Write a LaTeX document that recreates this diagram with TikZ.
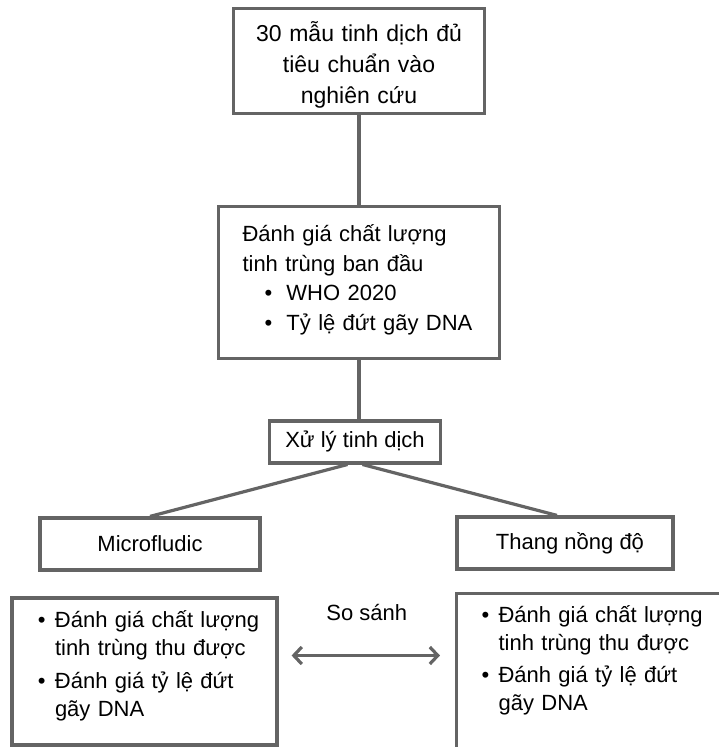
\documentclass[tikz,border=0pt]{standalone}
\usepackage{fontspec}
\setmainfont{Liberation Sans}
\usetikzlibrary{positioning,arrows.meta}
\definecolor{framegray}{RGB}{100,100,100}
% text line with its own left indent
\newcommand{\inline}[2]{\par{\leftskip=#1\relax\noindent#2\par}}
% bullet line: #1 left indent, #2 bullet width, #3 text
\newcommand{\bulitem}[3]{\par{\leftskip=#1\relax\hangindent=#2\hangafter=1\noindent\makebox[#2][l]{\textbullet}#3\par}}
% extra space at the foot of a box text (kept, unlike a bare \vspace)
\newcommand{\padfoot}[1]{\par\vspace{#1}\hrule height 0pt}

\begin{document}
\begin{tikzpicture}[x=1pt, y=-1pt,
    box/.style={rectangle, draw=framegray, line width=3.2pt, fill=white, inner sep=0pt, font=\fontsize{22}{29.5}\selectfont},
    listbox/.style={box, font=\fontsize{22}{28}\selectfont, align=left},
    link/.style={draw=framegray, line width=3.2pt},
    cmp/.style={{Straight Barb[length=8pt,width=17pt]}-{Straight Barb[length=8pt,width=17pt]}, draw=framegray, line width=3.2pt},
    lbl/.style={font=\fontsize{22}{29.5}\selectfont}
]
    \useasboundingbox (0,0) rectangle (719,747);
    \clip (0,0) rectangle (719,747);

    \node[box, minimum width=251pt, minimum height=105pt, text width=235pt, align=center, font=\fontsize{23}{31}\selectfont] (pool) at (359,61) {30 mẫu tinh dịch đủ\\ tiêu chuẩn vào\\ nghiên cứu\padfoot{-8pt}};
    \node[box, below=90pt of pool, minimum width=281pt, minimum height=152pt, text width=260pt, align=left] (baseline) {%
        \inline{13.5pt}{Đánh giá chất lượng}
        \inline{13.5pt}{tinh trùng ban đầu}
        \bulitem{35.5pt}{22pt}{\mbox{WHO 2020}}
        \bulitem{35.5pt}{22pt}{\mbox{Tỷ lệ đứt gãy DNA}}\padfoot{18pt}};
    \node[box, below=59pt of baseline, xshift=-4pt, minimum width=171pt, minimum height=42pt] (proc) {Xử lý tinh dịch};

    \node[box, minimum width=220pt, minimum height=52pt] (micro) at (150,544) {Microfludic};
    \node[box, minimum width=216pt, minimum height=52pt] (grad) at (565,543) {\hspace{10pt}Thang nồng độ};

    \node[listbox, minimum width=265pt, minimum height=147pt, text width=260pt] (resA) at (144.5,671.5) {%
        \bulitem{23.5pt}{17pt}{Đánh giá chất lượng\newline tinh trùng thu được}\vspace{5pt}
        \bulitem{23.5pt}{17pt}{Đánh giá tỷ lệ đứt\newline gãy DNA}\padfoot{22pt}};
    \node[listbox, anchor=north west, minimum width=300pt, text width=270pt, inner ysep=1pt] (resB) at (455,592) {%
        \bulitem{10pt}{17pt}{Đánh giá chất lượng\newline tinh trùng thu được}\vspace{4pt}
        \bulitem{10pt}{17pt}{Đánh giá tỷ lệ đứt\newline gãy DNA}\padfoot{90pt}};

    \draw[link] (pool) -- (baseline);
    \draw[link] (baseline.south) -- (baseline.south |- proc.north);
    \draw[link] ([xshift=-7.5pt]proc.south) -- (micro.north);
    \draw[link] ([xshift=7.5pt]proc.south) -- ([xshift=-8pt]grad.north);
    \draw[cmp, shorten <=13pt, shorten >=15pt] ([yshift=16pt]resA.east) -- node[lbl, above=30pt] {So sánh} ([yshift=16pt]resA.east -| resB.west);
\end{tikzpicture}
\end{document}
